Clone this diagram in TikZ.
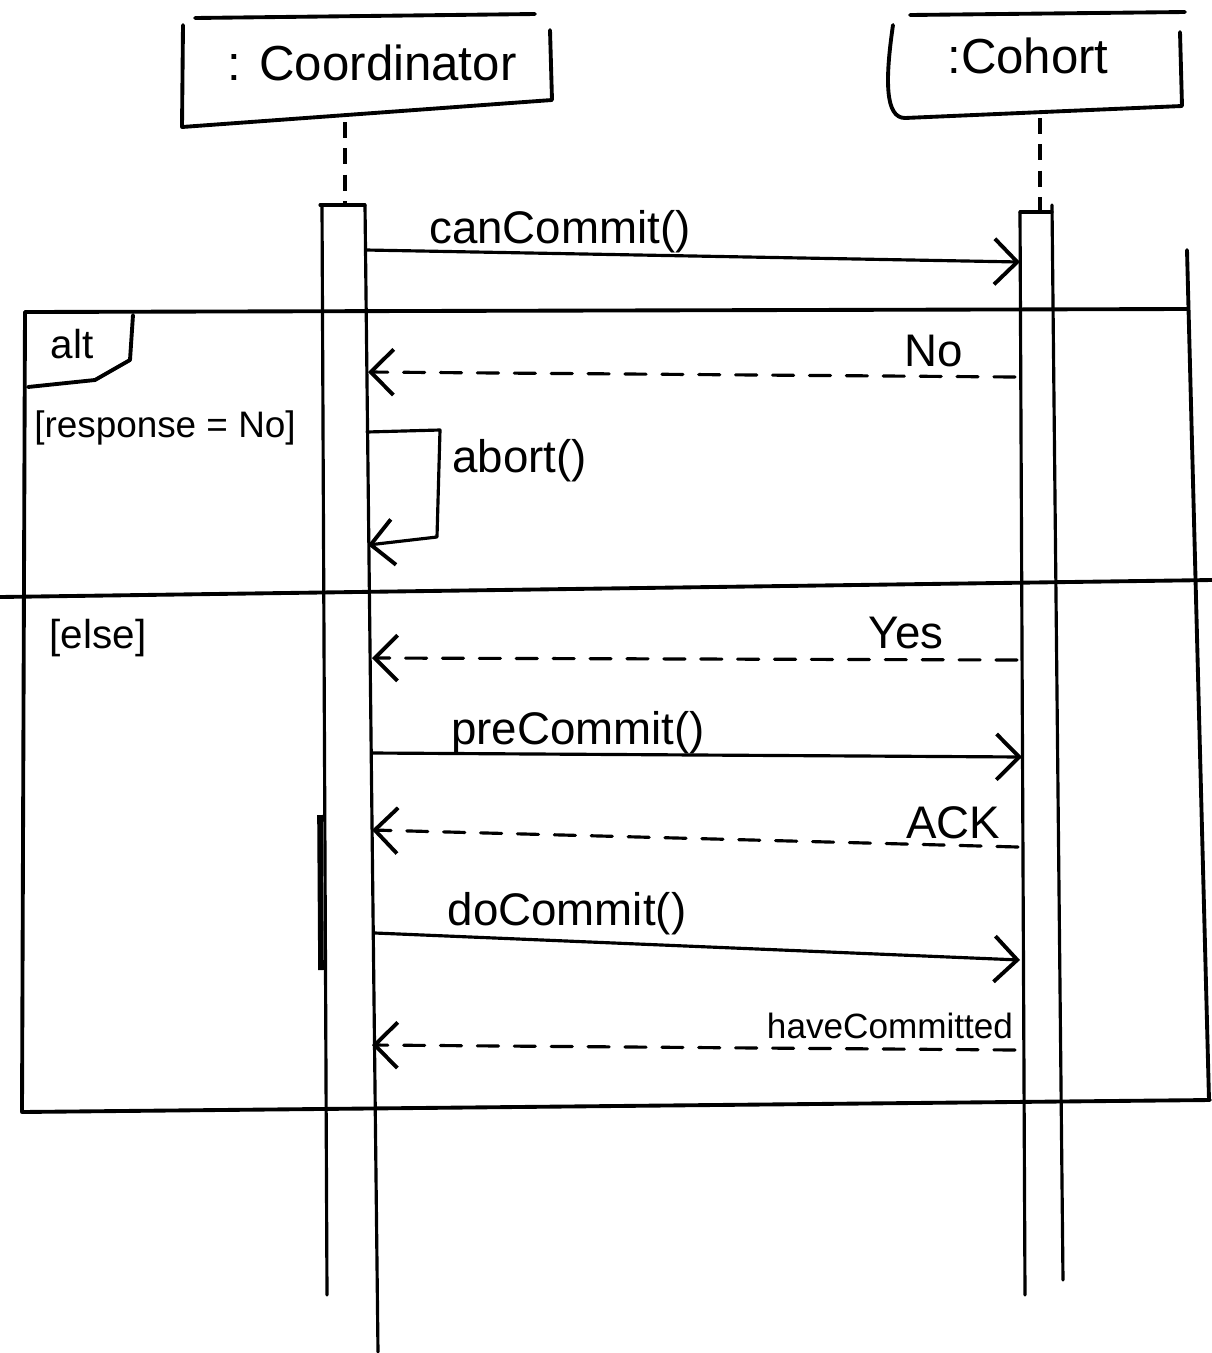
\documentclass[tikz,border=0pt]{standalone}
\usepackage{fontspec}
\setmainfont{Liberation Sans}
\usetikzlibrary{arrows.meta}
\tikzset{
  ink/.style={line width=2.2pt, line cap=round, line join=round},
  life/.style={line width=1.8pt, line cap=round},
  lifedash/.style={line width=2.2pt, dash pattern=on 9pt off 6pt},
  msg/.style={line width=1.8pt, line cap=round, line join=round, -{Straight Barb[length=13pt,width=26pt,line width=2.2pt]}},
  reply/.style={msg, dash pattern=on 12pt off 9pt},
  title/.style={font=\fontsize{28}{32}\selectfont, anchor=base},
  lbl/.style={font=\fontsize{26}{30}\selectfont, anchor=base, inner sep=0pt},
  small/.style={font=\fontsize{21}{24}\selectfont, anchor=base, inner sep=0pt},
}
\begin{document}
\begin{tikzpicture}[x=0.02cm, y=-0.02cm]
\useasboundingbox (0,0) rectangle (1212,1353);

% --- Coordinator head
\draw[ink] (195,18) -- (535,14);
\draw[ink] (183,25) -- (182,127) -- (552,100) -- (550,30);
\node[title] (coordname) at (372,80) {: Coordinator};
% --- Cohort head
\draw[ink] (910,15) -- (1185,12);
\draw[ink] (893,25) .. controls (885,80) and (885,118) .. (905,118) -- (1182,106) -- (1180,32);
\node[title] (cohortname) at (1028,73) {:Cohort};

% --- lifelines (dashed)
\coordinate (coordtop) at (345,122);
\coordinate (coordbar) at (345,203);
\coordinate (cohtop) at (1040,118);
\coordinate (cohbar) at (1040,210);
\draw[lifedash] (coordtop) -- (coordbar);
\draw[lifedash] (cohtop) -- (cohbar);

% --- activation bars
\draw[life] (320,205) -- (365,205);
\draw[life] (322,205) -- (327,1295);
\draw[life] (365,205) -- (378,1352);
\draw[line width=3.2pt] (320,815) -- (321,970);
\draw[life] (1020,212) -- (1052,212);
\draw[life] (1020,212) -- (1025,1295);
\draw[life] (1052,205) -- (1063,1280);

% --- alt frame
\draw[ink] (25,312) -- (1187,309);
\draw[ink] (1187,250) -- (1209,1100);
\draw[ink] (25,312) -- (22,1112) -- (1210,1100);
\draw[ink] (0,597) -- (1212,580);
\draw[ink] (133,315) -- (130,360) -- (95,380) -- (28,387);
\node[small, font=\fontsize{23}{26}\selectfont] (altlbl) at (72,358) {alt};
\node[small] (guard1) at (165,437) {[response = No]};
\node[small, font=\fontsize{23}{26}\selectfont] (guard2) at (98,648) {[else]};

% --- message end points
\coordinate (m1s) at (366,250);  \coordinate (m1e) at (1020,262);
\coordinate (m2s) at (1015,377); \coordinate (m2e) at (368,372);
\coordinate (a1) at (367,432); \coordinate (a2) at (440,430);
\coordinate (a3) at (437,537); \coordinate (a4) at (368,545);
\coordinate (m3s) at (1017,660); \coordinate (m3e) at (372,658);
\coordinate (m4s) at (372,753);  \coordinate (m4e) at (1022,757);
\coordinate (m5s) at (1018,847); \coordinate (m5e) at (372,830);
\coordinate (m6s) at (375,933);  \coordinate (m6e) at (1020,960);
\coordinate (m7s) at (1015,1050); \coordinate (m7e) at (372,1045);

\draw[msg] (m1s) -- (m1e);
\draw[reply] (m2s) -- (m2e);
\draw[msg] (a1) -- (a2) -- (a3) -- (a4);
\draw[reply] (m3s) -- (m3e);
\draw[msg] (m4s) -- (m4e);
\draw[reply] (m5s) -- (m5e);
\draw[msg] (m6s) -- (m6e);
\draw[reply] (m7s) -- (m7e);

% --- labels
\node[lbl] (l1) at (560,243) {canCommit()};
\node[lbl] (l2) at (934,366) {No};
\node[lbl, anchor=base west] (l3) at (452,472) {abort()};
\node[lbl] (l4) at (906,648) {Yes};
\node[lbl] (l5) at (578,744) {preCommit()};
\node[lbl] (l6) at (953,838) {ACK};
\node[lbl] (l7) at (567,925) {doCommit()};
\node[lbl, font=\fontsize{20}{24}\selectfont] (l8) at (890,1038) {haveCommitted};
\end{tikzpicture}
\end{document}
